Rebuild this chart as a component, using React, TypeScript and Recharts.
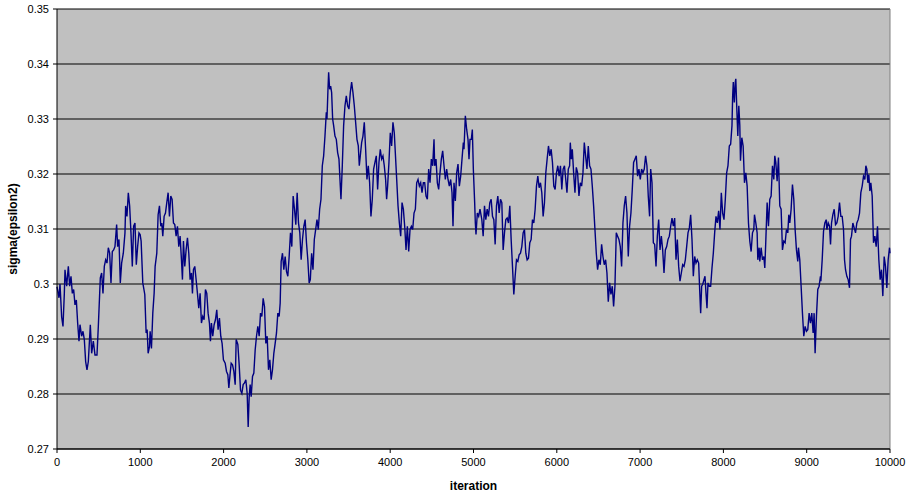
import { LineChart, Line, XAxis, YAxis, CartesianGrid, ReferenceLine } from "recharts";

// [iteration, sigma(epsilon2)], one list per 1000 iterations
const trace0: [number, number][] = [
  [0, 0.2995], [24, 0.2975], [36, 0.3], [56, 0.294], [72, 0.2923], [88, 0.2983], [96, 0.3026],
  [116, 0.2996], [136, 0.3032], [152, 0.2996], [168, 0.3014], [184, 0.2983], [200, 0.299],
  [216, 0.2962], [232, 0.2971], [248, 0.2929], [264, 0.2896], [276, 0.2926], [296, 0.2905],
  [312, 0.2914], [328, 0.2899], [344, 0.2859], [360, 0.2844], [376, 0.2859], [400, 0.2926],
  [416, 0.2874], [436, 0.2896], [456, 0.2871], [480, 0.2871], [496, 0.2923], [520, 0.3011],
  [536, 0.302], [552, 0.2983], [568, 0.3032], [584, 0.3044], [600, 0.3038], [616, 0.3066],
  [632, 0.3056], [648, 0.3002], [664, 0.3059], [680, 0.3062], [696, 0.3068], [716, 0.3108],
  [728, 0.3068], [744, 0.3081], [760, 0.3002], [776, 0.3038], [796, 0.3056], [816, 0.3093],
  [824, 0.3142], [840, 0.3123], [856, 0.3166], [872, 0.3142], [888, 0.3093], [904, 0.3032],
  [920, 0.3105], [936, 0.3111], [952, 0.3035], [968, 0.3068], [984, 0.3093],
];

const trace1: [number, number][] = [
  [998, 0.309], [1010, 0.3078], [1022, 0.3032], [1030, 0.3002], [1054, 0.2981], [1070, 0.2911],
  [1082, 0.2917], [1094, 0.2874], [1110, 0.2886], [1118, 0.2914], [1134, 0.2883], [1150, 0.2947],
  [1166, 0.2983], [1178, 0.3032], [1198, 0.3056], [1214, 0.3126], [1230, 0.3142], [1246, 0.3105],
  [1258, 0.3111], [1270, 0.3087], [1286, 0.3123], [1302, 0.3129], [1318, 0.3148], [1334, 0.3166],
  [1350, 0.3123], [1366, 0.316], [1382, 0.3154], [1398, 0.3111], [1414, 0.3108], [1430, 0.3087],
  [1446, 0.3105], [1462, 0.3068], [1478, 0.3087], [1494, 0.3044], [1506, 0.3008], [1518, 0.3078],
  [1534, 0.3032], [1550, 0.3062], [1566, 0.3084], [1582, 0.3056], [1598, 0.3008], [1614, 0.302],
  [1626, 0.2983], [1638, 0.3026], [1654, 0.3032], [1670, 0.3008], [1686, 0.2983], [1702, 0.2956],
  [1718, 0.2983], [1734, 0.2929], [1750, 0.2941], [1766, 0.2935], [1782, 0.299], [1798, 0.2983],
  [1814, 0.2947], [1830, 0.2929], [1842, 0.2896], [1854, 0.2929], [1870, 0.2905], [1886, 0.2926],
  [1902, 0.2935], [1918, 0.2953], [1934, 0.2917], [1950, 0.2938], [1966, 0.2905], [1982, 0.2892],
  [1998, 0.2862],
];

const trace2: [number, number][] = [
  [2019, 0.2856], [2035, 0.2841], [2051, 0.2835], [2063, 0.2811], [2079, 0.2838], [2091, 0.2856],
  [2107, 0.2853], [2123, 0.2841], [2139, 0.2817], [2151, 0.2899], [2171, 0.289], [2187, 0.2853],
  [2203, 0.2807], [2219, 0.2801], [2235, 0.2817], [2251, 0.282], [2267, 0.2826], [2283, 0.2801],
  [2295, 0.274], [2307, 0.2795], [2319, 0.2817], [2331, 0.2795], [2347, 0.2832], [2363, 0.2838],
  [2379, 0.288], [2395, 0.2905], [2411, 0.2923], [2427, 0.2905], [2443, 0.2947], [2459, 0.2941],
  [2475, 0.2974], [2491, 0.2959], [2507, 0.2892], [2523, 0.2905], [2539, 0.2844], [2555, 0.2862],
  [2571, 0.2826], [2587, 0.2844], [2603, 0.2874], [2619, 0.2892], [2635, 0.2911], [2651, 0.2947],
  [2667, 0.2941], [2679, 0.2965], [2691, 0.3041], [2707, 0.3056], [2723, 0.3026], [2739, 0.305],
  [2755, 0.3023], [2771, 0.3014], [2787, 0.305], [2803, 0.3093], [2819, 0.3068], [2835, 0.316],
  [2851, 0.3136], [2867, 0.3108], [2883, 0.3166], [2899, 0.3111], [2915, 0.3093], [2931, 0.3044],
  [2947, 0.3081], [2963, 0.3105], [2979, 0.3117], [2995, 0.3075], [3011, 0.3044], [3027, 0.3002],
];

const trace3: [number, number][] = [
  [3041, 0.3008], [3057, 0.3056], [3073, 0.3026], [3089, 0.3081], [3105, 0.3099], [3121, 0.3117],
  [3137, 0.3099], [3153, 0.3136], [3169, 0.3154], [3185, 0.3215], [3201, 0.3233], [3217, 0.3269],
  [3233, 0.3312], [3241, 0.33], [3253, 0.3354], [3261, 0.3385], [3273, 0.3354], [3285, 0.336],
  [3297, 0.3348], [3309, 0.33], [3321, 0.3288], [3337, 0.3269], [3353, 0.3263], [3369, 0.3239],
  [3385, 0.3227], [3401, 0.3178], [3409, 0.3154], [3425, 0.3215], [3441, 0.3288], [3457, 0.3324],
  [3473, 0.3342], [3489, 0.3324], [3505, 0.3318], [3521, 0.3348], [3537, 0.3367], [3553, 0.3348],
  [3569, 0.3324], [3585, 0.3294], [3601, 0.3263], [3617, 0.3251], [3629, 0.3215], [3641, 0.3233],
  [3657, 0.3257], [3673, 0.3269], [3689, 0.3294], [3705, 0.3245], [3721, 0.319], [3737, 0.3215],
  [3753, 0.3184], [3769, 0.3123], [3785, 0.3154], [3801, 0.3209], [3817, 0.3221], [3833, 0.3233],
  [3849, 0.3172], [3865, 0.3221], [3881, 0.3245], [3897, 0.3227], [3913, 0.3233], [3929, 0.3215],
  [3945, 0.319], [3957, 0.3154], [3969, 0.3178], [3985, 0.3221], [4001, 0.3275], [4017, 0.3251],
  [4033, 0.3294], [4049, 0.3275],
];

const trace4: [number, number][] = [
  [4074, 0.3202], [4094, 0.3142], [4110, 0.3111], [4126, 0.3087], [4142, 0.3148], [4158, 0.3136],
  [4174, 0.3105], [4190, 0.3062], [4206, 0.3105], [4222, 0.3059], [4238, 0.3099], [4254, 0.3105],
  [4270, 0.3099], [4286, 0.3129], [4302, 0.3136], [4318, 0.3184], [4334, 0.319], [4350, 0.3178],
  [4366, 0.3184], [4382, 0.3166], [4398, 0.3184], [4414, 0.3184], [4430, 0.316], [4446, 0.3154],
  [4462, 0.3209], [4478, 0.3184], [4494, 0.3227], [4510, 0.3215], [4526, 0.3263], [4534, 0.3215],
  [4550, 0.3227], [4566, 0.3184], [4582, 0.3172], [4598, 0.3202], [4614, 0.3227], [4630, 0.3242],
  [4646, 0.3215], [4662, 0.319], [4678, 0.3209], [4694, 0.319], [4710, 0.3178], [4726, 0.319],
  [4742, 0.3166], [4754, 0.3105], [4766, 0.3184], [4782, 0.3151], [4798, 0.3202], [4814, 0.3218],
  [4830, 0.3178], [4846, 0.3196], [4862, 0.3227], [4878, 0.3257], [4886, 0.3245], [4902, 0.3306],
  [4918, 0.3281], [4934, 0.3263], [4946, 0.3227], [4958, 0.3263], [4974, 0.3263], [4986, 0.3281],
  [4998, 0.3209], [5014, 0.3148], [5022, 0.3111], [5030, 0.309], [5046, 0.3129], [5062, 0.3123],
  [5078, 0.3136],
];

const trace5: [number, number][] = [
  [5100, 0.3117], [5116, 0.3087], [5132, 0.3142], [5148, 0.3117], [5164, 0.3136], [5180, 0.3123],
  [5196, 0.3148], [5212, 0.3154], [5228, 0.3123], [5244, 0.3117], [5260, 0.3072], [5276, 0.3142],
  [5292, 0.316], [5308, 0.3129], [5324, 0.3154], [5340, 0.3148], [5356, 0.3062], [5372, 0.3093],
  [5388, 0.3117], [5404, 0.312], [5420, 0.3111], [5436, 0.3142], [5452, 0.3081], [5468, 0.3032],
  [5484, 0.2981], [5500, 0.3014], [5516, 0.3044], [5532, 0.3041], [5548, 0.3053], [5564, 0.3056],
  [5580, 0.3068], [5596, 0.3093], [5612, 0.3099], [5628, 0.3056], [5644, 0.3044], [5660, 0.3047],
  [5676, 0.3075], [5692, 0.3081], [5708, 0.3117], [5724, 0.3111], [5740, 0.3136], [5756, 0.3178],
  [5772, 0.3196], [5788, 0.3175], [5804, 0.3184], [5820, 0.3166], [5836, 0.3123], [5852, 0.3148],
  [5868, 0.3202], [5884, 0.3227], [5900, 0.3251], [5916, 0.3233], [5932, 0.3245], [5948, 0.3221],
  [5964, 0.3178], [5980, 0.3172], [5996, 0.3202], [6012, 0.3215], [6028, 0.3196], [6044, 0.3215],
  [6060, 0.3172], [6076, 0.3209], [6092, 0.3215],
];

const trace6: [number, number][] = [
  [6122, 0.3166], [6138, 0.3209], [6154, 0.3215], [6162, 0.3257], [6174, 0.3227], [6186, 0.3245],
  [6202, 0.3202], [6218, 0.3166], [6234, 0.3212], [6250, 0.3202], [6266, 0.316], [6282, 0.3184],
  [6298, 0.3178], [6314, 0.3202], [6330, 0.3257], [6346, 0.3233], [6362, 0.3209], [6378, 0.3251],
  [6394, 0.3215], [6410, 0.3209], [6426, 0.3178], [6442, 0.3142], [6458, 0.3099], [6474, 0.3056],
  [6490, 0.3026], [6506, 0.3044], [6522, 0.3035], [6538, 0.3072], [6554, 0.305], [6570, 0.3035],
  [6586, 0.3044], [6602, 0.302], [6618, 0.2968], [6634, 0.3002], [6650, 0.2981], [6666, 0.2996],
  [6682, 0.2959], [6698, 0.2996], [6714, 0.3093], [6730, 0.3087], [6746, 0.3081], [6762, 0.3068],
  [6778, 0.3032], [6794, 0.3111], [6810, 0.3142], [6826, 0.316], [6842, 0.3129], [6858, 0.305],
  [6874, 0.3105], [6890, 0.3129], [6906, 0.3172], [6922, 0.3221], [6938, 0.3227], [6954, 0.3233],
  [6970, 0.3196], [6986, 0.3209], [7002, 0.319], [7018, 0.3209], [7034, 0.3202], [7050, 0.3209],
  [7066, 0.3233], [7082, 0.3215], [7098, 0.316], [7114, 0.3123],
];

const trace7: [number, number][] = [
  [7127, 0.3209], [7143, 0.3184], [7159, 0.3075], [7175, 0.3072], [7191, 0.3032], [7207, 0.3087],
  [7223, 0.3117], [7239, 0.3062], [7255, 0.3087], [7271, 0.3062], [7287, 0.302], [7303, 0.3062],
  [7319, 0.3068], [7335, 0.3081], [7351, 0.3087], [7367, 0.3105], [7383, 0.312], [7399, 0.3105],
  [7415, 0.312], [7431, 0.3044], [7447, 0.3081], [7463, 0.3032], [7479, 0.3005], [7495, 0.302],
  [7511, 0.3035], [7527, 0.3032], [7543, 0.3044], [7559, 0.3068], [7575, 0.3093], [7591, 0.3102],
  [7607, 0.3126], [7623, 0.3081], [7639, 0.3014], [7655, 0.305], [7671, 0.3038], [7687, 0.3044],
  [7703, 0.3038], [7715, 0.299], [7727, 0.2947], [7739, 0.2996], [7751, 0.2999], [7767, 0.3008],
  [7779, 0.3014], [7791, 0.2983], [7803, 0.2956], [7815, 0.3002], [7831, 0.2996], [7847, 0.2996],
  [7863, 0.3029], [7879, 0.3056], [7895, 0.3093], [7911, 0.3123], [7927, 0.3111], [7943, 0.3133],
  [7959, 0.3099], [7975, 0.3166], [7991, 0.3129], [8007, 0.3117], [8023, 0.3154], [8039, 0.3202],
  [8055, 0.3215], [8071, 0.3251], [8087, 0.3254], [8103, 0.3288], [8111, 0.3342], [8119, 0.3367],
  [8131, 0.333], [8143, 0.3367],
];

const trace8: [number, number][] = [
  [8149, 0.3373], [8161, 0.3318], [8173, 0.3269], [8185, 0.3324], [8197, 0.3288], [8205, 0.3224],
  [8221, 0.3266], [8237, 0.3251], [8253, 0.3184], [8269, 0.3202], [8285, 0.3178], [8301, 0.3111],
  [8317, 0.3078], [8333, 0.3059], [8349, 0.3093], [8365, 0.3099], [8373, 0.3126], [8389, 0.3111],
  [8405, 0.3093], [8413, 0.3044], [8429, 0.3066], [8437, 0.3041], [8453, 0.3066], [8469, 0.3044],
  [8485, 0.305], [8497, 0.3029], [8509, 0.3078], [8525, 0.3148], [8541, 0.3105], [8557, 0.3154],
  [8573, 0.316], [8589, 0.3215], [8605, 0.319], [8617, 0.3233], [8629, 0.3221], [8645, 0.3187],
  [8661, 0.323], [8677, 0.3142], [8693, 0.3136], [8709, 0.3062], [8725, 0.3078], [8741, 0.3075],
  [8757, 0.3099], [8773, 0.3093], [8785, 0.3126], [8797, 0.3111], [8813, 0.3136], [8829, 0.3181],
  [8845, 0.3154], [8861, 0.3099], [8877, 0.3062], [8893, 0.3041], [8901, 0.3066], [8917, 0.3044],
  [8933, 0.2996], [8949, 0.2947], [8965, 0.2905], [8981, 0.2923], [8997, 0.2914], [9013, 0.2917],
  [9029, 0.2947], [9045, 0.2929], [9061, 0.2947], [9077, 0.2911], [9089, 0.2947], [9101, 0.2874],
  [9117, 0.2941], [9133, 0.299], [9149, 0.2996], [9165, 0.3014],
];

const trace9: [number, number][] = [
  [9170, 0.3005], [9186, 0.3044], [9202, 0.3096], [9218, 0.3111], [9234, 0.3117], [9242, 0.3099],
  [9258, 0.3111], [9274, 0.3105], [9286, 0.3072], [9298, 0.3111], [9314, 0.3126], [9330, 0.3136],
  [9346, 0.3108], [9362, 0.3111], [9378, 0.3123], [9394, 0.3148], [9410, 0.3123], [9426, 0.3123],
  [9442, 0.3099], [9454, 0.3044], [9466, 0.3026], [9482, 0.3014], [9498, 0.3008], [9514, 0.2993],
  [9526, 0.3081], [9538, 0.3087], [9554, 0.3111], [9570, 0.3102], [9586, 0.3093], [9602, 0.3111],
  [9618, 0.3117], [9634, 0.3129], [9650, 0.3166], [9666, 0.3178], [9682, 0.3196], [9698, 0.319],
  [9710, 0.3215], [9722, 0.3209], [9734, 0.3184], [9746, 0.3199], [9758, 0.3169], [9770, 0.3184],
  [9786, 0.316], [9802, 0.3075], [9818, 0.3087], [9834, 0.3068], [9850, 0.3105], [9866, 0.3044],
  [9882, 0.3008], [9898, 0.3026], [9914, 0.2978], [9930, 0.305], [9946, 0.3032], [9962, 0.2993],
  [9978, 0.3044], [9994, 0.3066], [10000, 0.3056],
];

const ITERATION_TICKS = [0, 1000, 2000, 3000, 4000, 5000, 6000, 7000, 8000, 9000, 10000];
const SIGMA_TICKS = [0.27, 0.28, 0.29, 0.3, 0.31, 0.32, 0.33, 0.34, 0.35];

const chartData = [
  ...trace0, ...trace1, ...trace2, ...trace3, ...trace4,
  ...trace5, ...trace6, ...trace7, ...trace8, ...trace9,
].map(([iteration, sigma]) => ({ iteration, sigma }));

const FONT = "'Liberation Sans', Arial, sans-serif";
const tickStyle = { fill: "#000", fontSize: 11, fontFamily: FONT };

export default function App() {
  return (
    <div style={{ position: "absolute", left: 0, top: 0, width: 911, height: 497, background: "#fff" }}>
      <LineChart
        width={911}
        height={497}
        data={chartData}
        margin={{ top: 9, right: 21, left: 0, bottom: 0 }}
        style={{ fontFamily: FONT }}
      >
        <CartesianGrid vertical={false} stroke="#000" fill="#C0C0C0" fillOpacity={1} />
        <XAxis
          dataKey="iteration"
          type="number"
          domain={[0, 10000]}
          ticks={ITERATION_TICKS}
          height={48}
          tickSize={4}
          tickMargin={5}
          stroke="#000"
          tick={tickStyle}
          label={{ value: "iteration", position: "insideBottom", offset: 7, fill: "#000", fontSize: 12, fontWeight: "bold", fontFamily: FONT }}
        />
        <YAxis
          type="number"
          domain={[0.27, 0.35]}
          ticks={SIGMA_TICKS}
          width={57}
          tickSize={4}
          tickMargin={4}
          stroke="#000"
          tick={tickStyle}
          tickFormatter={(v: number) => String(Number(v.toFixed(2)))}
          label={{ value: "sigma(epsilon2)", angle: -90, position: "insideLeft", offset: 8, dx: 5, fill: "#000", fontSize: 12, fontWeight: "bold", fontFamily: FONT, style: { textAnchor: "middle" } }}
        />
        <ReferenceLine x={10000} stroke="#808080" />
        <Line
          type="linear"
          dataKey="sigma"
          stroke="#000080"
          strokeWidth={1.4}
          dot={false}
          isAnimationActive={false}
        />
      </LineChart>
    </div>
  );
}
